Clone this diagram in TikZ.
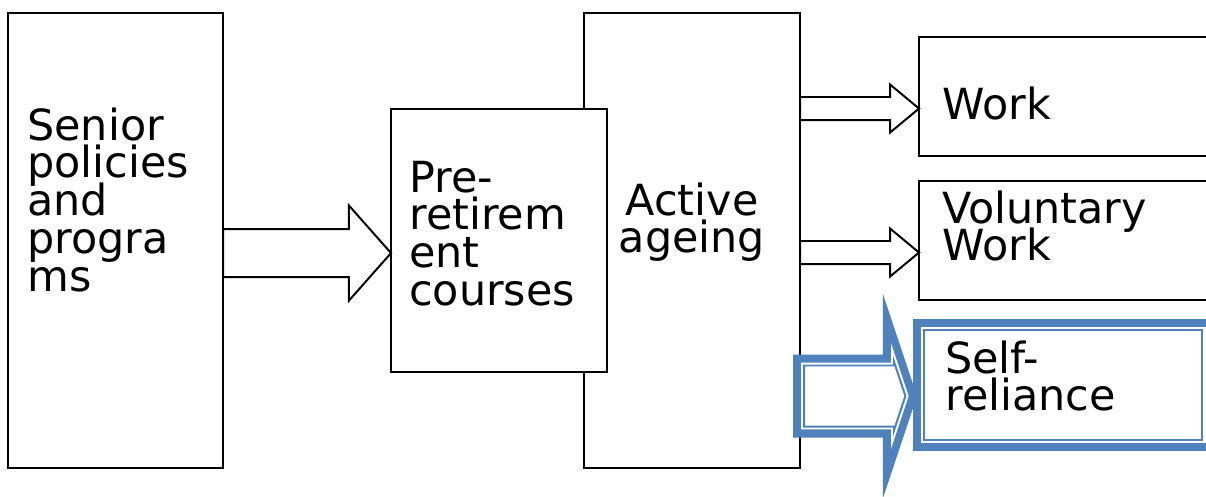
\documentclass[tikz,border=0pt]{standalone}
\usepackage{fontspec}
\setmainfont{DejaVu Sans}
\usetikzlibrary{calc}
\definecolor{accent}{HTML}{4F81BD}

\tikzset{
  box/.style={draw, line width=1.4pt, fill=white, inner sep=0pt, outer sep=0pt, anchor=north west},
  txt/.style={inner sep=0pt, anchor=base west, align=left, text width=7cm,
    font={\fontsize{30.5}{27}\selectfont\lineskiplimit=-100pt}},
  blk/.style={draw, fill=white, line width=1.4pt},
}

% block arrow from a start point to the x of a tip point
\newcommand{\blockarrow}[6][]{%
  \path[#1] let \p1=(#2), \p2=(#3) in
    (\x1,\y1+#4) -- (\x2-#6,\y1+#4) -- (\x2-#6,\y1+#5) -- (\x2,\y1)
    -- (\x2-#6,\y1-#5) -- (\x2-#6,\y1-#4) -- (\x1,\y1-#4) -- cycle;}

\begin{document}
\begin{tikzpicture}[x=0.025cm, y=-0.025cm]
  \useasboundingbox (0,0) rectangle (1206,496);
  \node[box, minimum width=5.4cm, minimum height=11.375cm] (AA) at (584,13) {};
  \node[box, minimum width=5.4cm, minimum height=6.575cm] (PR) at (391,109) {};
  \node[box, minimum width=5.375cm, minimum height=11.375cm] (SP) at (8,13) {};
  \node[box, minimum width=7.775cm, minimum height=2.975cm] (W) at (919,37) {};
  \node[box, minimum width=7.775cm, minimum height=2.975cm] (VW) at (919,181) {};
  \node[box, draw=accent, line width=5.7pt, minimum width=7.375cm, minimum height=3.1cm] (SR) at (917,323) {};
  \draw[accent, line width=1.4pt] ([shift={(7,7)}]SR.north west) rectangle ([shift={(-10,-7)}]SR.south east);

  \blockarrow[blk]{$(SP.east)+(0,12.5)$}{PR.west}{17.1pt}{33.8pt}{29.9pt}
  \blockarrow[blk]{$(AA.east |- W.west)+(0,12)$}{W.west}{8.2pt}{17.1pt}{20.6pt}
  \blockarrow[blk]{$(AA.east |- VW.west)+(0,12)$}{VW.west}{8.2pt}{17.1pt}{20.6pt}
  % thick-thin outline of the highlighted arrow
  \blockarrow[fill=accent]{$(AA.east |- SR.west)+(-7,11)$}{SR.west}{29.5pt}{72.6pt}{24.2pt}
  \blockarrow[fill=white]{$(AA.east |- SR.west)+(1,11)$}{$(SR.west)+(-8.4,0)$}{23.8pt}{37.5pt}{12.5pt}
  \blockarrow[draw=accent, line width=1.4pt]{$(AA.east |- SR.west)+(4,11)$}{$(SR.west)+(-11.6,0)$}{21.7pt}{24.4pt}{8.1pt}

  \node[txt] (tSP) at ($(SP.north west)+(19,127)$) {Senior\\policies\\and\\progra\\ms};
  \node[txt] (tPR) at ($(PR.north west)+(18,83)$) {Pre-\\retirem\\ent\\courses};
  \node[txt, anchor=base, align=center, text width=5cm] (tAA) at ($(AA.north)+(0,202)$) {Active\\ageing};
  \node[txt] (tW) at ($(W.north west)+(23,82)$) {Work};
  \node[txt] (tVW) at ($(VW.north west)+(23,42)$) {Voluntary\\Work};
  \node[txt] (tSR) at ($(SR.north west)+(28,50)$) {Self-\\reliance};
\end{tikzpicture}
\end{document}
